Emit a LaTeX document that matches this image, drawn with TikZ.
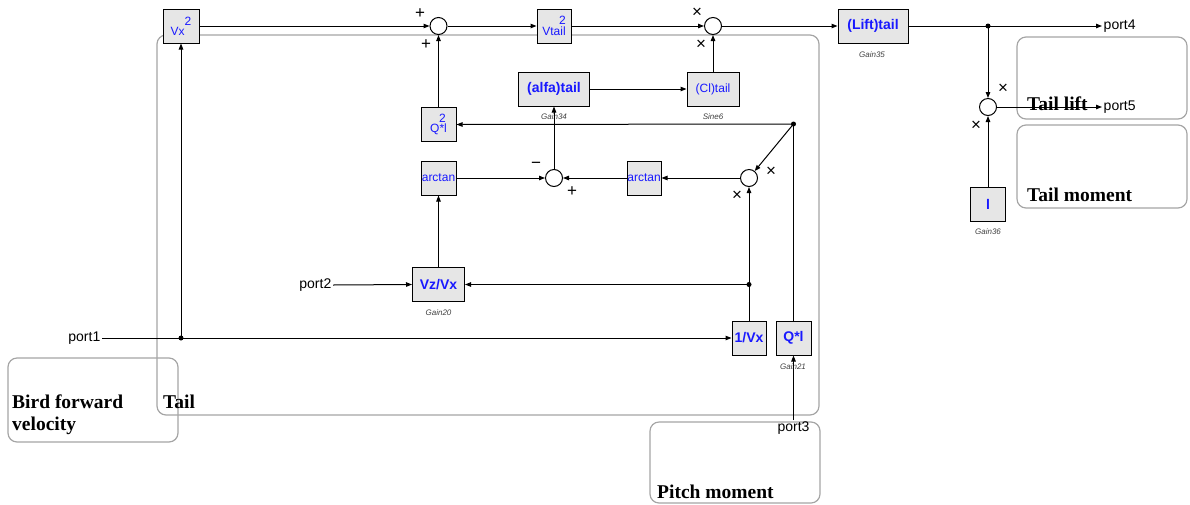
\documentclass[tikz,border=0pt]{standalone}
\usepackage{fontspec}
\setmainfont{Liberation Serif}
\setsansfont{Liberation Sans}
\usetikzlibrary{arrows.meta}
\definecolor{blkc}{RGB}{25,25,255}
\definecolor{bfill}{RGB}{230,230,230}
\definecolor{gboxc}{RGB}{165,165,165}
\begin{document}
\begin{tikzpicture}[x=1pt,y=-1pt,font=\sffamily,
  >={Triangle[length=6pt,width=4.5pt]},
  block/.style={draw=black,line width=1pt,fill=bfill,minimum width=#1,minimum height=34pt,
    inner sep=0pt,text=blkc,font=\sffamily\fontsize{12}{14}\selectfont},
  bblock/.style={block=#1,font=\sffamily\bfseries\fontsize{14}{16}\selectfont},
  sumc/.style={circle,draw=black,line width=1pt,minimum size=17pt,inner sep=0pt,fill=white},
  gbox/.style={draw=gboxc,line width=1.2pt,rounded corners=9pt},
  boxlab/.style={font=\rmfamily\bfseries\fontsize{19.5}{22}\selectfont,anchor=base west,inner sep=0pt},
  portlab/.style={font=\sffamily\fontsize{14}{16}\selectfont,inner sep=1.5pt},
  gainlab/.style={font=\sffamily\itshape\fontsize{8}{9}\selectfont,text=black!75,inner sep=0pt},
  signlab/.style={font=\sffamily\fontsize{17}{18}\selectfont,inner sep=0pt},
  conn/.style={line width=1pt,draw=black},
  jdot/.style={circle,fill=black,inner sep=0pt,minimum size=5pt}]
\useasboundingbox (0,0) rectangle (1190,504);

% gray annotation boxes
\draw[gbox] (157,35) rectangle (819,415);
\draw[gbox] (8,358) rectangle (178,442);
\draw[gbox] (650,422) rectangle (820,503);
\draw[gbox] (1017,37) rectangle (1187,119);
\draw[gbox] (1017,125) rectangle (1187,208);
\node[boxlab] (ltail) at (163,408) {Tail};
\node[boxlab] (lbird1) at (12,408) {Bird forward};
\node[boxlab] (lbird2) at (12,430) {velocity};
\node[boxlab] (lpitch) at (657,498) {Pitch moment};
\node[boxlab] (llift) at (1027,110) {Tail lift};
\node[boxlab] (lmom) at (1027,201) {Tail moment};

% blocks
\node[block=36pt] (vx2) at (181,26) {Vx\raisebox{0.85em}{2}};
\node[block=34pt] (vtail) at (554,26) {Vtail\llap{\raisebox{0.9em}{2}}};
\node[bblock=70pt] (lift) at (873,26) {(Lift)tail};
\node[bblock=71pt] (alfa) at (554,89) {(alfa)tail};
\node[block=52pt] (cl) at (713,89) {(Cl)tail};
\node[block=35pt] (ql2) at (438.5,124.5) {Q*l\llap{\raisebox{0.9em}{2}\kern1pt}};
\node[block=35pt] (atl) at (438.5,178) {arctan};
\node[block=34pt] (atr) at (644,178) {arctan};
\node[bblock=52pt] (vzvx) at (438.5,284.5) {Vz/Vx};
\node[bblock=34pt] (ivx) at (749,338) {1/Vx};
\node[bblock=35pt] (ql) at (793.5,338) {Q*l};
\node[bblock=35pt] (gl) at (988,204.5) {l};

% gain labels
\node[gainlab] (g35) at (872,55) {Gain35};
\node[gainlab] (g34) at (554,117) {Gain34};
\node[gainlab] (s6) at (713,117) {Sine6};
\node[gainlab] (g20) at (438.5,313) {Gain20};
\node[gainlab] (g21) at (793,367) {Gain21};
\node[gainlab] (g36) at (988,232) {Gain36};

% sum junctions
\node[sumc] (s1) at (438.5,26) {};
\node[sumc] (s2) at (713,26) {};
\node[sumc] (s3) at (988,107) {};
\node[sumc] (s4) at (749,178) {};
\node[sumc] (s5) at (554,178) {};

% signs
\node[signlab] (p1a) at (420,14) {+};
\node[signlab] (p1b) at (426,45) {+};
\node[signlab] (x2a) at (697,13) {×};
\node[signlab] (x2b) at (701,45) {×};
\node[signlab] (x3a) at (1003,89) {×};
\node[signlab] (x3b) at (976,126) {×};
\node[signlab] (x4a) at (771,172) {×};
\node[signlab] (x4b) at (737,196) {×};
\node[signlab] (m5a) at (536,165) {−};
\node[signlab] (p5b) at (572,192) {+};

% ports
\node[portlab,anchor=east] (port1) at (102,338) {port1};
\node[portlab,anchor=east] (port2) at (333,285) {port2};
\node[portlab,anchor=north] (port3) at (793.5,420) {port3};
\node[portlab,anchor=west] (port4) at (1102,26) {port4};
\node[portlab,anchor=west] (port5) at (1102,107) {port5};

% junction dots
\coordinate (d0) at (181,338);
\coordinate (d1) at (749,284.5);
\coordinate (d2) at (793.5,124);
\coordinate (d3) at (988,26);
\node[jdot] (j0) at (d0) {};
\node[jdot] (j1) at (d1) {};
\node[jdot] (j2) at (d2) {};
\node[jdot] (j3) at (d3) {};

% connectors
\draw[conn] (port1.east) -- (d0);
\draw[conn,->] (d0) -- (ivx.west);
\draw[conn,->] (d0) -- (vx2.south);
\draw[conn,->] (vx2.east) -- (s1.west);
\draw[conn,->] (ql2.north) -- (s1.south);
\draw[conn,->] (s1.east) -- (vtail.west);
\draw[conn,->] (vtail.east) -- (s2.west);
\draw[conn,->] (s2.east) -- (lift.west);
\draw[conn] (lift.east) -- (d3);
\draw[conn,->] (d3) -- (port4.west);
\draw[conn,->] (d3) -- (s3.north);
\draw[conn,->] (gl.north) -- (s3.south);
\draw[conn,->] (s3.east) -- (port5.west);
\draw[conn,->] (cl.north) -- (s2.south);
\draw[conn,->] (alfa.east) -- (cl.west);
\draw[conn,->] (s5.north) -- (alfa.south);
\draw[conn,->] (atl.east) -- (s5.west);
\draw[conn,->] (atr.west) -- (s5.east);
\draw[conn,->] (s4.west) -- (atr.east);
\draw[conn,->] (vzvx.north) -- (atl.south);
\draw[conn,->] (port2.east) -- (vzvx.west);
\draw[conn] (ivx.north) -- (d1);
\draw[conn,->] (d1) -- (vzvx.east);
\draw[conn,->] (d1) -- (s4.south);
\draw[conn] (ql.north) -- (d2);
\draw[conn,->] (d2) -- (ql2.east);
\draw[conn,->] (d2) -- (s4);
\draw[conn,->] (port3.north) -- (ql.south);
\end{tikzpicture}
\end{document}
